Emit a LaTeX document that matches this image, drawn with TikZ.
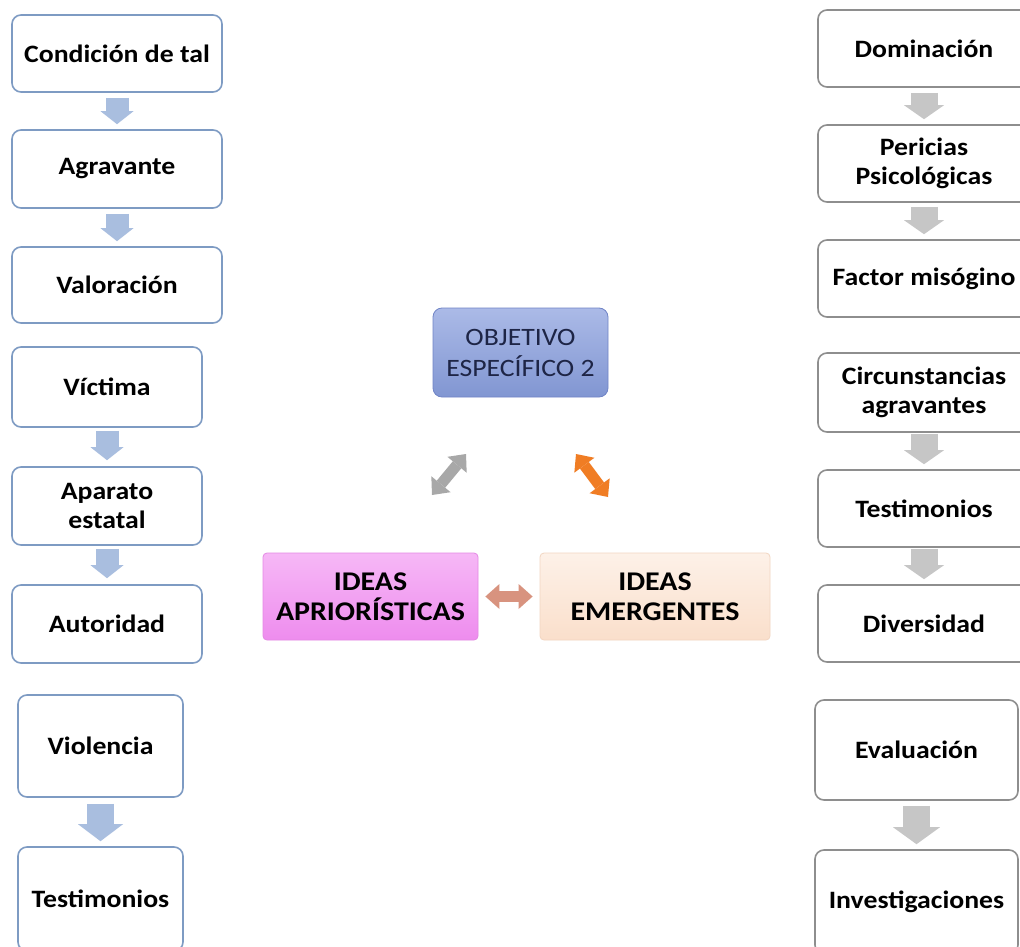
\documentclass[tikz,border=0pt]{standalone}
\usepackage{fontspec}
\setmainfont{Carlito}[FakeStretch=1.11]
\usetikzlibrary{arrows.meta}
\definecolor{bordeazul}{HTML}{7E9BC3}
\definecolor{bordegris}{HTML}{8E8E8E}
\definecolor{flechaazul}{HTML}{A9BEDF}
\definecolor{flechagris}{HTML}{C6C6C6}
\definecolor{objborde}{HTML}{7084C6}
\definecolor{objarriba}{HTML}{ABBAE7}
\definecolor{objabajo}{HTML}{8196D2}
\definecolor{objtexto}{HTML}{1E2546}
\definecolor{rosaarriba}{HTML}{F6B8F6}
\definecolor{rosaabajo}{HTML}{EE8CEE}
\definecolor{rosaborde}{HTML}{E488E4}
\definecolor{durazarriba}{HTML}{FDF1E8}
\definecolor{durazabajo}{HTML}{FADFCB}
\definecolor{durazborde}{HTML}{F2D6C2}
\definecolor{salmon}{HTML}{D8937F}
\definecolor{grismedio}{HTML}{A8A8A8}
\definecolor{naranja}{HTML}{F07D24}

\begin{document}
\begin{tikzpicture}[x=1pt,y=-1pt]
		\tikzset{caja/.style = {shape=rectangle, rounded corners=9pt, line width=1.6pt,
			fill=white, align=center, inner sep=2pt,
			font=\fontsize{25}{28.5}\selectfont\bfseries}}
		\tikzset{cajaizq/.style = {caja, draw=bordeazul}}
		\tikzset{cajader/.style = {caja, draw=bordegris}}
		\tikzset{cajaideas/.style = {caja, rounded corners=4pt, line width=0.8pt,
			font=\fontsize{27}{30}\selectfont\bfseries}}
		\tikzset{bajaizq/.style = {line width=23pt, draw=flechaazul,
			-{Triangle[width=33pt,length=13pt,line width=0pt]}}}
		\tikzset{bajader/.style = {line width=27pt, draw=flechagris,
			-{Triangle[width=40pt,length=14pt,line width=0pt]}}}
		\tikzset{dobleflecha/.style = {line width=11pt,
			{Triangle[width=25pt,length=14pt,line width=0pt]}-{Triangle[width=25pt,length=14pt,line width=0pt]}}}
		\path[use as bounding box, clip] (0,0) rectangle (1020,947);
		\fill[white] (0,0) rectangle (1020,947);
		% columna izquierda
		\node[cajaizq, minimum width=210pt, minimum height=77pt] (i1) at (117,53.5) {Condición de tal};
		\node[cajaizq, minimum width=210pt, minimum height=78pt] (i2) at (117,169) {Agravante};
		\node[cajaizq, minimum width=210pt, minimum height=76pt] (i3) at (117,285) {Valoración};
		\node[cajaizq, minimum width=190pt, minimum height=80pt] (i4) at (107,387) {Víctima};
		\node[cajaizq, minimum width=190pt, minimum height=78pt] (i5) at (107,506) {Aparato\\estatal};
		\node[cajaizq, minimum width=190pt, minimum height=78pt] (i6) at (107,624) {Autoridad};
		\node[cajaizq, minimum width=165pt, minimum height=102pt] (i7) at (100.5,746) {Violencia};
		\node[cajaizq, minimum width=165pt, minimum height=104pt] (i8) at (100.5,899) {Testimonios};
		% columna derecha
		\node[cajader, minimum width=212pt, minimum height=77pt] (d1) at (924,48.5) {Dominación};
		\node[cajader, minimum width=212pt, minimum height=77pt] (d2) at (924,163.5) {Pericias\\Psicológicas};
		\node[cajader, minimum width=212pt, minimum height=77pt] (d3) at (924,278.5) {Factor misógino};
		\node[cajader, minimum width=212pt, minimum height=79pt] (d4) at (924,392.5) {Circunstancias\\agravantes};
		\node[cajader, minimum width=212pt, minimum height=77pt] (d5) at (924,508.5) {Testimonios};
		\node[cajader, minimum width=212pt, minimum height=77pt] (d6) at (924,623.5) {Diversidad};
		\node[cajader, minimum width=203pt, minimum height=100pt] (d7) at (916.5,750) {Evaluación};
		\node[cajader, minimum width=203pt, minimum height=104pt] (d8) at (916.5,902) {Investigaciones};
		% centro
		\node[caja, font=\fontsize{25}{31}\selectfont, text=objtexto, draw=objborde, line width=0.8pt,
			top color=objarriba, bottom color=objabajo, minimum width=175pt, minimum height=89pt] (obj) at (520.5,352.5) {OBJETIVO\\ESPECÍFICO 2};
		\node[cajaideas, draw=rosaborde, top color=rosaarriba, bottom color=rosaabajo,
			minimum width=215pt, minimum height=87pt] (apri) at (370.5,596.5) {IDEAS\\APRIORÍSTICAS};
		\node[cajaideas, draw=durazborde, top color=durazarriba, bottom color=durazabajo,
			minimum width=230pt, minimum height=87pt] (emer) at (655,596.5) {IDEAS\\EMERGENTES};
		\coordinate (g1) at (432,495);
		\coordinate (g2) at (466,454);
		\coordinate (o1) at (576,454);
		\coordinate (o2) at (608,497);

		%flechas
		\draw[bajaizq] ([yshift=-5pt]i1.south) -- ([yshift=5pt]i2.north);
		\draw[bajaizq] ([yshift=-5pt]i2.south) -- ([yshift=5pt]i3.north);
		\draw[bajaizq] ([yshift=-3pt]i4.south) -- ([yshift=6pt]i5.north);
		\draw[bajaizq] ([yshift=-3pt]i5.south) -- ([yshift=6pt]i6.north);
		\draw[bajaizq, line width=27pt, -{Triangle[width=45pt,length=17pt,line width=0pt]}] ([yshift=-6pt]i7.south) -- ([yshift=5pt]i8.north);
		\draw[bajader] ([yshift=-5pt]d1.south) -- ([yshift=5pt]d2.north);
		\draw[bajader] ([yshift=-4pt]d2.south) -- ([yshift=5pt]d3.north);
		\draw[bajader] ([yshift=-1pt]d4.south) -- ([yshift=5pt]d5.north);
		\draw[bajader] ([yshift=-1pt]d5.south) -- ([yshift=5pt]d6.north);
		\draw[bajader, -{Triangle[width=47pt,length=17pt,line width=0pt]}] ([yshift=-5pt]d7.south) -- ([yshift=5pt]d8.north);

		\draw[dobleflecha, draw=salmon] ([xshift=7pt]apri.east) -- ([xshift=-7pt]emer.west);
		\draw[dobleflecha, draw=grismedio] (g1) -- (g2);
		\draw[dobleflecha, draw=naranja] (o1) -- (o2);
\end{tikzpicture}
\end{document}
